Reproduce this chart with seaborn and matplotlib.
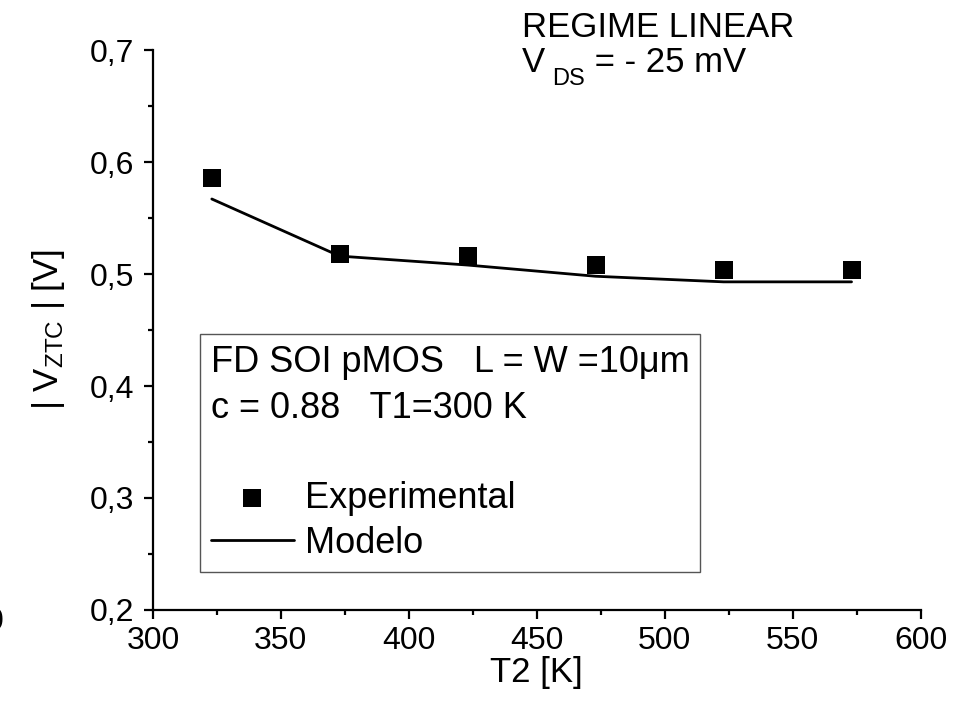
import matplotlib
matplotlib.use("Agg")
import matplotlib.pyplot as plt
import seaborn as sns
import pandas as pd
from matplotlib.ticker import MultipleLocator

# data
t2_exp = [323, 373, 423, 473, 523, 573]
vztc_exp = [0.586, 0.518, 0.516, 0.508, 0.504, 0.504]
t2_model = [323, 373, 423, 473, 523, 573]
vztc_model = [0.567, 0.516, 0.508, 0.498, 0.493, 0.493]
x_ticks = [300, 350, 400, 450, 500, 550, 600]
y_ticks = [0.2, 0.3, 0.4, 0.5, 0.6, 0.7]
y_tick_labels = ['0,2', '0,3', '0,4', '0,5', '0,6', '0,7']

exp = pd.DataFrame({'T2': t2_exp, 'V': vztc_exp})
model = pd.DataFrame({'T2': t2_model, 'V': vztc_model})

sns.set_theme(style='ticks')
plt.rcParams['font.family'] = ['Liberation Sans', 'DejaVu Sans']
plt.rcParams['mathtext.fontset'] = 'custom'
plt.rcParams['mathtext.rm'] = 'Liberation Sans'
plt.rcParams['mathtext.it'] = 'Liberation Sans'
plt.rcParams['text.color'] = 'black'
plt.rcParams['axes.labelcolor'] = 'black'

fig = plt.figure(figsize=(9.56, 7.05), dpi=100)
ax = fig.add_axes([0.160, 0.1348, 0.803, 0.7942])

sns.lineplot(data=model, x='T2', y='V', color='black', linewidth=2.0,
             label='Modelo', ax=ax)
sns.scatterplot(data=exp, x='T2', y='V', color='black', marker='s', s=150,
                linewidth=0, label='Experimental', ax=ax)

ax.set_xlim(300, 600)
ax.set_ylim(0.2, 0.7)
ax.set_xticks(x_ticks)
ax.set_xticklabels([str(v) for v in x_ticks])
ax.set_yticks(y_ticks)
ax.set_yticklabels(y_tick_labels)
ax.xaxis.set_minor_locator(MultipleLocator(25))
ax.yaxis.set_minor_locator(MultipleLocator(0.05))
ax.tick_params(which='major', direction='out', length=6.5, width=1.6,
               labelsize=23, color='black', labelcolor='black')
ax.tick_params(axis='x', which='major', pad=5)
ax.tick_params(axis='y', which='major', pad=7)
ax.tick_params(which='minor', direction='out', length=3.5, width=1.6,
               color='black')
for s in ['left', 'bottom']:
    ax.spines[s].set_linewidth(1.6)
    ax.spines[s].set_color('black')
sns.despine(ax=ax)

ax.set_xlabel('T2 [K]', fontsize=25, labelpad=0)
ax.set_ylabel(r'| V$_{\mathregular{ZTC}}$ | [V]', fontsize=25, labelpad=16)

handles, labels = ax.get_legend_handles_labels()
order = [labels.index('Experimental'), labels.index('Modelo')]
leg = ax.legend([handles[i] for i in order], [labels[i] for i in order],
                title='FD SOI pMOS   L = W =10\u03bcm\nc = 0.88   T1=300 K\n',
                title_fontsize=26, fontsize=26, alignment='left',
                loc='lower left', bbox_to_anchor=(0.061, 0.068),
                borderaxespad=0, fancybox=False, framealpha=1,
                edgecolor='#555555', handlelength=2.3, handletextpad=0.32,
                labelspacing=0.28, borderpad=0.3)
leg.get_frame().set_linewidth(1.0)
leg.get_title().set_linespacing(1.38)

fig.text(0.546, 0.9475, 'REGIME LINEAR', fontsize=25, va='baseline')
tv = fig.text(0.546, 0.898, 'V', fontsize=25, va='baseline')
tds = ax.annotate('DS', xy=(1, 0), xycoords=tv, xytext=(5, -8),
                  textcoords='offset points', fontsize=17, va='bottom',
                  annotation_clip=False)
ax.annotate(' = - 25 mV', xy=(1, 0), xycoords=(tds, tv), xytext=(0, 0),
            textcoords='offset points', fontsize=25, va='bottom',
            annotation_clip=False)
fig.text(0.004, 0.118, '0', fontsize=23, ha='right', va='center')

fig.savefig('out.png', dpi=100, facecolor='white')
